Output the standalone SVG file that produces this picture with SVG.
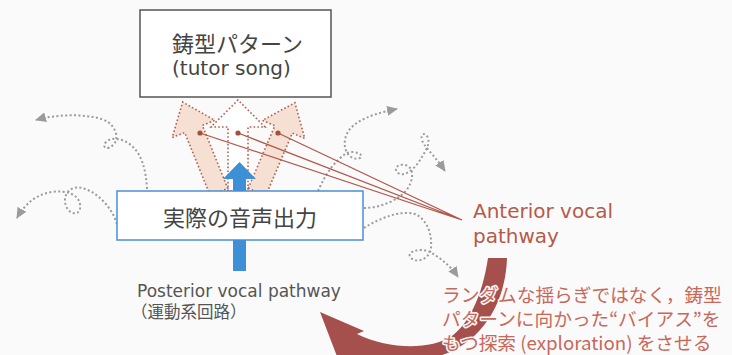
<svg xmlns="http://www.w3.org/2000/svg" width="732" height="355" viewBox="0 0 732 355">
<style>
.jp{font-family:"Noto Sans CJK JP",sans-serif}
.lat{font-family:"DejaVu Sans","Noto Sans CJK JP",sans-serif}
.fat{stroke:#b5604f;stroke-width:1.6;stroke-dasharray:1.6 2.2;stroke-linejoin:miter}
.gray{fill:none;stroke:#9b9b9b;stroke-width:2;stroke-dasharray:2 2.4}
.conv{stroke:#b0574a;stroke-width:1.3;fill:none}
.note{font-family:"Noto Sans CJK JP",sans-serif;font-size:18.7px;fill:#c8685a;stroke:#fafafa;stroke-width:3;paint-order:stroke;stroke-linejoin:round}
</style>
<defs>
<marker id="ga" markerUnits="userSpaceOnUse" markerWidth="12" markerHeight="10" refX="10" refY="5" orient="auto">
<path d="M0,0 L11,5 L0,10 Z" fill="#9b9b9b"/>
</marker>
<polygon id="side" points="-9.5,0 -9.5,-68 -23,-68 0,-97 23,-68 9.5,-68 9.5,0"/>
<polygon id="mid" points="-10,0 -10,-64 -27,-64 0,-91 27,-64 10,-64 10,0"/>
</defs>
<rect width="732" height="355" fill="#fafafa"/>

<g id="connectors">
<path class="gray" d="M147,189 C146,170 142,155 132,146 C124,139 112,136 106,142 C101,148 108,151 114,144 C119,138 116,128 108,122 C95,114 60,113 36,120" marker-end="url(#ga)"/>
<path class="gray" d="M117,224 C112,208 98,192 82,188 C70,185 62,195 66,206 C70,216 82,216 80,204 C78,194 66,190 52,192 C38,194 26,202 17,218" marker-end="url(#ga)"/>
<path class="gray" d="M318,191 C325,175 335,160 347,153 C355,150 365,155 360,158 C352,161 343,153 345,140 C347,125 365,115 397,109" marker-end="url(#ga)"/>
<path class="gray" d="M364,208 C380,208 400,200 408,188 C413,180 414,170 408,166 C400,162 392,168 398,173 C404,177 414,170 420,160 C425,152 430,145 428,138 C426,132 420,133 422,140 C424,147 432,152 445,171" marker-end="url(#ga)"/>
<path class="gray" d="M364,228 C380,218 400,210 415,214 C428,220 432,235 431,248 C430,258 418,264 411,258 C405,252 420,247 430,252 C440,258 450,265 458,277" marker-end="url(#ga)"/>
</g>

<g id="exploration-arrows">
<use href="#side" transform="translate(219,192) rotate(-22)" fill="#f6dfd3"/>
<use href="#side" transform="translate(257,192) rotate(23)" fill="#f6dfd3"/>
<use href="#mid" transform="translate(238,191)" fill="#ffffff"/>
<use href="#side" transform="translate(219,192) rotate(-22)" fill="none" class="fat"/>
<use href="#side" transform="translate(257,192) rotate(23)" fill="none" class="fat"/>
<use href="#mid" transform="translate(238,191)" fill="none" class="fat"/>
</g>

<g id="posterior-arrow">
<polygon points="233,271 233,179 223,179 239.5,162 256,179 246,179 246,271" fill="#3d8fd6"/>
</g>

<g id="anterior-lines">
<path class="conv" d="M200,133 L462,220 M238,133 L462,220 M278,133 L462,220"/>
<circle cx="200" cy="133" r="2.6" fill="#a5503f"/>
<circle cx="238" cy="133" r="2.6" fill="#a5503f"/>
<circle cx="278" cy="133" r="2.6" fill="#a5503f"/>
</g>

<g id="tutor-song">
<rect x="140" y="10" width="191" height="87" fill="#ffffff" stroke="#555" stroke-width="1.5"/>
<text x="172" y="52" class="jp" font-size="22" fill="#444">鋳型パターン</text>
<text x="172" y="75" class="lat" font-size="20" fill="#444">(tutor song)</text>
</g>

<g id="actual-output">
<rect x="117" y="191" width="246" height="49" fill="#ffffff" stroke="#4a90d9" stroke-width="1.5"/>
<text x="163" y="226" class="jp" font-size="22" fill="#444">実際の音声出力</text>
</g>

<g id="posterior-label">
<text x="137" y="297" class="lat" font-size="17" fill="#555">Posterior vocal pathway</text>
<text x="131" y="318" class="jp" font-size="16.5" fill="#555">（運動系回路）</text>
</g>

<g id="anterior-label">
<text x="473" y="218" class="lat" font-size="20" fill="#b55a4b">Anterior vocal</text>
<text x="473" y="243" class="lat" font-size="20" fill="#b55a4b">pathway</text>
</g>

<g id="bias-arrow">
<path d="M507,258 C506,292 492,328 458,348 C430,364 385,366 350,360 L343,372 L320,312 L364,331 L357,334 C390,350 430,350 452,336 C468,324 482,298 488,258 Z" fill="#a5504d"/>
</g>

<g id="bias-note">
<text x="442" y="302" class="note">ランダムな揺らぎではなく，鋳型</text>
<text x="442" y="326" class="note">パターンに向かった“バイアス”を</text>
<text x="442" y="350" class="note">もつ探索 (exploration) をさせる</text>
</g>
</svg>
